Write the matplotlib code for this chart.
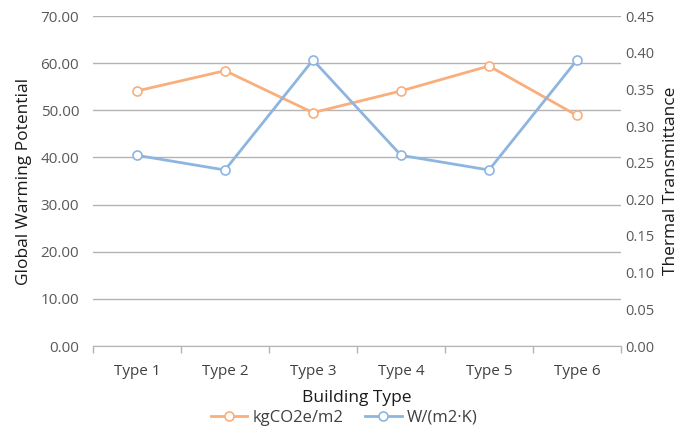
import matplotlib
matplotlib.use("Agg")
import matplotlib.pyplot as plt
from matplotlib.lines import Line2D

categories = ["Type 1", "Type 2", "Type 3", "Type 4", "Type 5", "Type 6"]
gwp = [54.1, 58.4, 49.5, 54.1, 59.4, 48.9]          # kgCO2e/m2
u_value = [0.26, 0.24, 0.39, 0.26, 0.24, 0.39]      # W/(m2·K)
left_ticks = [0, 10, 20, 30, 40, 50, 60, 70]
right_ticks = [0.00, 0.05, 0.10, 0.15, 0.20, 0.25, 0.30, 0.35, 0.40, 0.45]

plt.rcParams['font.family'] = ['Open Sans', 'DejaVu Sans']
text_col = "#404040"
tick_col = "#595959"
grid_col = "#B3B3B3"
orange = "#F9AE7C"
blue = "#8EB5E0"

fig = plt.figure(figsize=(6.88, 4.33), dpi=100)
ax = fig.add_axes([93/688, 1-346/433, (621-93)/688, (346-16)/433])
ax2 = ax.twinx()

x = list(range(len(categories)))
ax.plot(x, gwp, color=orange, lw=2.0, marker='o', ms=6.5,
        mfc='white', mec=orange, mew=1.2, zorder=3)
ax2.plot(x, u_value, color=blue, lw=2.0, marker='o', ms=6.5,
         mfc='white', mec=blue, mew=1.2, zorder=3)

ax.set_xlim(-0.5, len(categories) - 0.5)
ax.set_ylim(0, 70)
ax2.set_ylim(0, 0.45)
ax.set_yticks(left_ticks)
ax.set_yticklabels([f"{v:.2f}" for v in left_ticks])
ax2.set_yticks(right_ticks)
ax2.set_yticklabels([f"{v:.2f}" for v in right_ticks])

ax.set_xticks(x)
ax.set_xticklabels(categories)
ax.set_xticks([i - 0.5 for i in range(len(categories) + 1)], minor=True)
ax.tick_params(axis='x', which='major', length=0, pad=13, labelsize=11, labelcolor=text_col)
ax.tick_params(axis='x', which='minor', length=5, color=grid_col, width=1)
ax.tick_params(axis='y', length=0, pad=10, labelsize=11, labelcolor=tick_col)
ax2.tick_params(axis='y', length=0, pad=3, labelsize=10.5, labelcolor=tick_col)

ax.yaxis.grid(True, color=grid_col, lw=1)
ax.set_axisbelow(True)
for a in (ax, ax2):
    for s in ("top", "left", "right"):
        a.spines[s].set_visible(False)
    a.spines["bottom"].set_color(grid_col)
ax2.spines["bottom"].set_visible(False)

ax.set_ylabel("Global Warming Potential", fontsize=12.5, color="#1a1a1a", labelpad=6)
ax2.set_ylabel("Thermal Transmittance", fontsize=12.5, color="#1a1a1a", labelpad=6)
ax.set_xlabel("Building Type", fontsize=12.5, color="#1a1a1a", labelpad=8)

handles = [
    Line2D([0], [0], color=orange, lw=2.0, marker='o', ms=6.5, mfc='white', mec=orange, mew=1.2),
    Line2D([0], [0], color=blue, lw=2.0, marker='o', ms=6.5, mfc='white', mec=blue, mew=1.2),
]
fig.legend(handles, ["kgCO2e/m2", "W/(m2·K)"], loc="center", bbox_to_anchor=(0.5, 1 - 418/433),
           ncol=2, frameon=False, fontsize=12, labelcolor=text_col,
           handlelength=2.2, columnspacing=1.3, handletextpad=0.3)

fig.savefig("out.png", dpi=100)
